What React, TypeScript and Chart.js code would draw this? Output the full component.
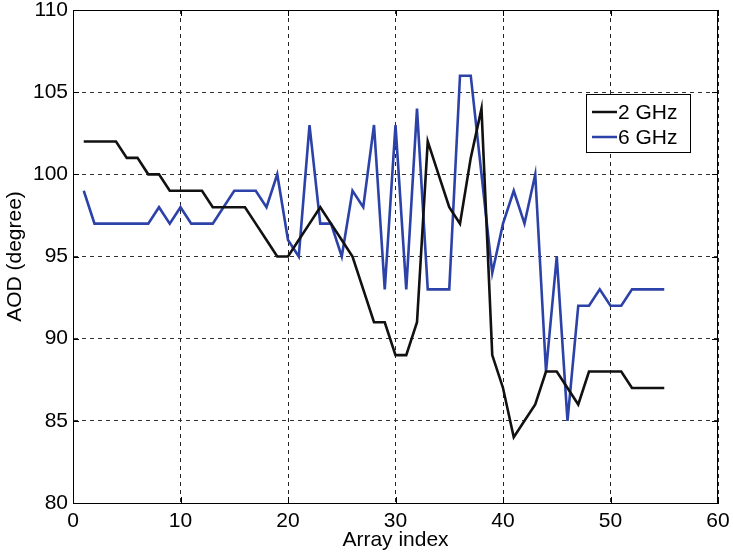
import React, { useEffect, useRef } from "react";
import { Chart, registerables } from "chart.js";

Chart.register(...registerables);

const arrayIndex = [
  1, 2, 3, 4, 5, 6, 7, 8, 9, 10, 11, 12, 13, 14, 15, 16, 17, 18, 19, 20,
  21, 22, 23, 24, 25, 26, 27, 28, 29, 30, 31, 32, 33, 34, 35, 36, 37, 38, 39, 40,
  41, 42, 43, 44, 45, 46, 47, 48, 49, 50, 51, 52, 53, 54, 55,
];

const aod2GHz = [
  102, 102, 102, 102, 101, 101, 100, 100, 99, 99, 99, 99, 98, 98, 98, 98, 97, 96, 95, 95,
  96, 97, 98, 97, 96, 95, 93, 91, 91, 89, 89, 91, 102, 100, 98, 97, 101, 104, 89, 87,
  84, 85, 86, 88, 88, 87, 86, 88, 88, 88, 88, 87, 87, 87, 87,
];

const aod6GHz = [
  99, 97, 97, 97, 97, 97, 97, 98, 97, 98, 97, 97, 97, 98, 99, 99, 99, 98, 100, 96,
  95, 103, 97, 97, 95, 99, 98, 103, 93, 103, 93, 104, 93, 93, 93, 106, 106, 100, 94, 97,
  99, 97, 100, 88, 95, 85, 92, 92, 93, 92, 92, 93, 93, 93, 93,
];

const seriesLabels = ["2 GHz", "6 GHz"];
const seriesColors = ["#111111", "#2c42a8"];

const FONT = "'Liberation Sans', Arial, sans-serif";

const boxPlugin = {
  id: "matlabBox",
  afterDraw(chart: any) {
    const { ctx, chartArea } = chart;
    const { left, right, top, bottom } = chartArea;
    ctx.save();
    ctx.strokeStyle = "#000";
    ctx.lineWidth = 1;
    ctx.setLineDash([]);
    ctx.strokeRect(Math.round(left) + 0.5, Math.round(top) + 0.5, Math.round(right - left) - 1, Math.round(bottom - top));
    // inside tick marks
    const xs = chart.scales.x;
    const ys = chart.scales.y;
    const tl = 6;
    ctx.beginPath();
    xs.ticks.forEach((t: any) => {
      const px = Math.round(xs.getPixelForValue(t.value)) + 0.5;
      ctx.moveTo(px, bottom);
      ctx.lineTo(px, bottom - tl);
      ctx.moveTo(px, top);
      ctx.lineTo(px, top + tl);
    });
    ys.ticks.forEach((t: any) => {
      const py = Math.round(ys.getPixelForValue(t.value)) + 0.5;
      ctx.moveTo(left, py);
      ctx.lineTo(left + tl, py);
      ctx.moveTo(right, py);
      ctx.lineTo(right - tl, py);
    });
    ctx.stroke();

    // legend
    const lx = 586, ly = 94, lw = 104, lh = 58;
    ctx.fillStyle = "#fff";
    ctx.fillRect(lx, ly, lw, lh);
    ctx.strokeStyle = "#000";
    ctx.lineWidth = 1;
    ctx.strokeRect(lx + 0.5, ly + 0.5, lw, lh);
    ctx.font = `21px ${FONT}`;
    ctx.textBaseline = "middle";
    ctx.textAlign = "left";
    const rows = [112, 137];
    seriesLabels.forEach((lab, i) => {
      ctx.strokeStyle = seriesColors[i];
      ctx.lineWidth = 2.5;
      ctx.beginPath();
      ctx.moveTo(592, rows[i]);
      ctx.lineTo(617, rows[i]);
      ctx.stroke();
      ctx.fillStyle = "#000";
      ctx.fillText(lab, 618, rows[i] + 1);
    });
    ctx.restore();
  },
};

const zeroPad = (scale: any) => {
  scale.paddingTop = 0;
  scale.paddingBottom = 0;
  scale.paddingLeft = 0;
  scale.paddingRight = 0;
};

export default function App() {
  const canvasRef = useRef<HTMLCanvasElement | null>(null);

  useEffect(() => {
    const canvas = canvasRef.current;
    if (!canvas) return;
    const chart = new Chart(canvas, {
      type: "line",
      data: {
        datasets: [aod2GHz, aod6GHz].map((vals, i) => ({
          label: seriesLabels[i],
          data: arrayIndex.map((x, j) => ({ x, y: vals[j] })),
          borderColor: seriesColors[i],
          backgroundColor: seriesColors[i],
          borderWidth: 2.6,
          pointRadius: 0,
          tension: 0,
          fill: false,
        })),
      },
      options: {
        responsive: false,
        animation: false,
        layout: { padding: { top: 10, right: 15, left: 0, bottom: 0 } },
        plugins: {
          legend: { display: false },
          tooltip: { enabled: false },
        },
        scales: {
          x: {
            type: "linear",
            min: 0,
            max: 60,
            ticks: {
              stepSize: 10,
              color: "#000",
              font: { family: FONT, size: 21, lineHeight: 1 },
              padding: 8,
              maxRotation: 0,
            },
            grid: {
              color: "#222",
              lineWidth: 1,
              drawTicks: false,
              tickLength: 0,
            },
            border: { display: true, color: "#000", dash: [4, 4] },
            title: {
              display: true,
              text: "Array index",
              color: "#000",
              font: { family: FONT, size: 21 },
              padding: { top: 0, bottom: 3 },
            },
            afterFit(scale: any) {
              scale.height = 53;
              zeroPad(scale);
            },
          } as any,
          y: {
            min: 80,
            max: 110,
            ticks: {
              stepSize: 5,
              color: "#000",
              font: { family: FONT, size: 21, lineHeight: 1 },
              padding: 5,
            },
            grid: {
              color: "#333",
              lineWidth: 1,
              drawTicks: false,
              tickLength: 0,
            },
            border: { display: true, color: "#000", dash: [4, 4] },
            title: {
              display: true,
              text: "AOD (degree)",
              color: "#000",
              font: { family: FONT, size: 21 },
              padding: { top: 3, bottom: 0 },
            },
            afterFit(scale: any) {
              scale.width = 73;
              zeroPad(scale);
            },
          } as any,
        },
      },
      plugins: [boxPlugin],
    });
    return () => chart.destroy();
  }, []);

  return (
    <div style={{ position: "fixed", left: 0, top: 0, width: 733, height: 556, background: "#fff" }}>
      <canvas ref={canvasRef} width={733} height={556} style={{ display: "block" }} />
    </div>
  );
}
